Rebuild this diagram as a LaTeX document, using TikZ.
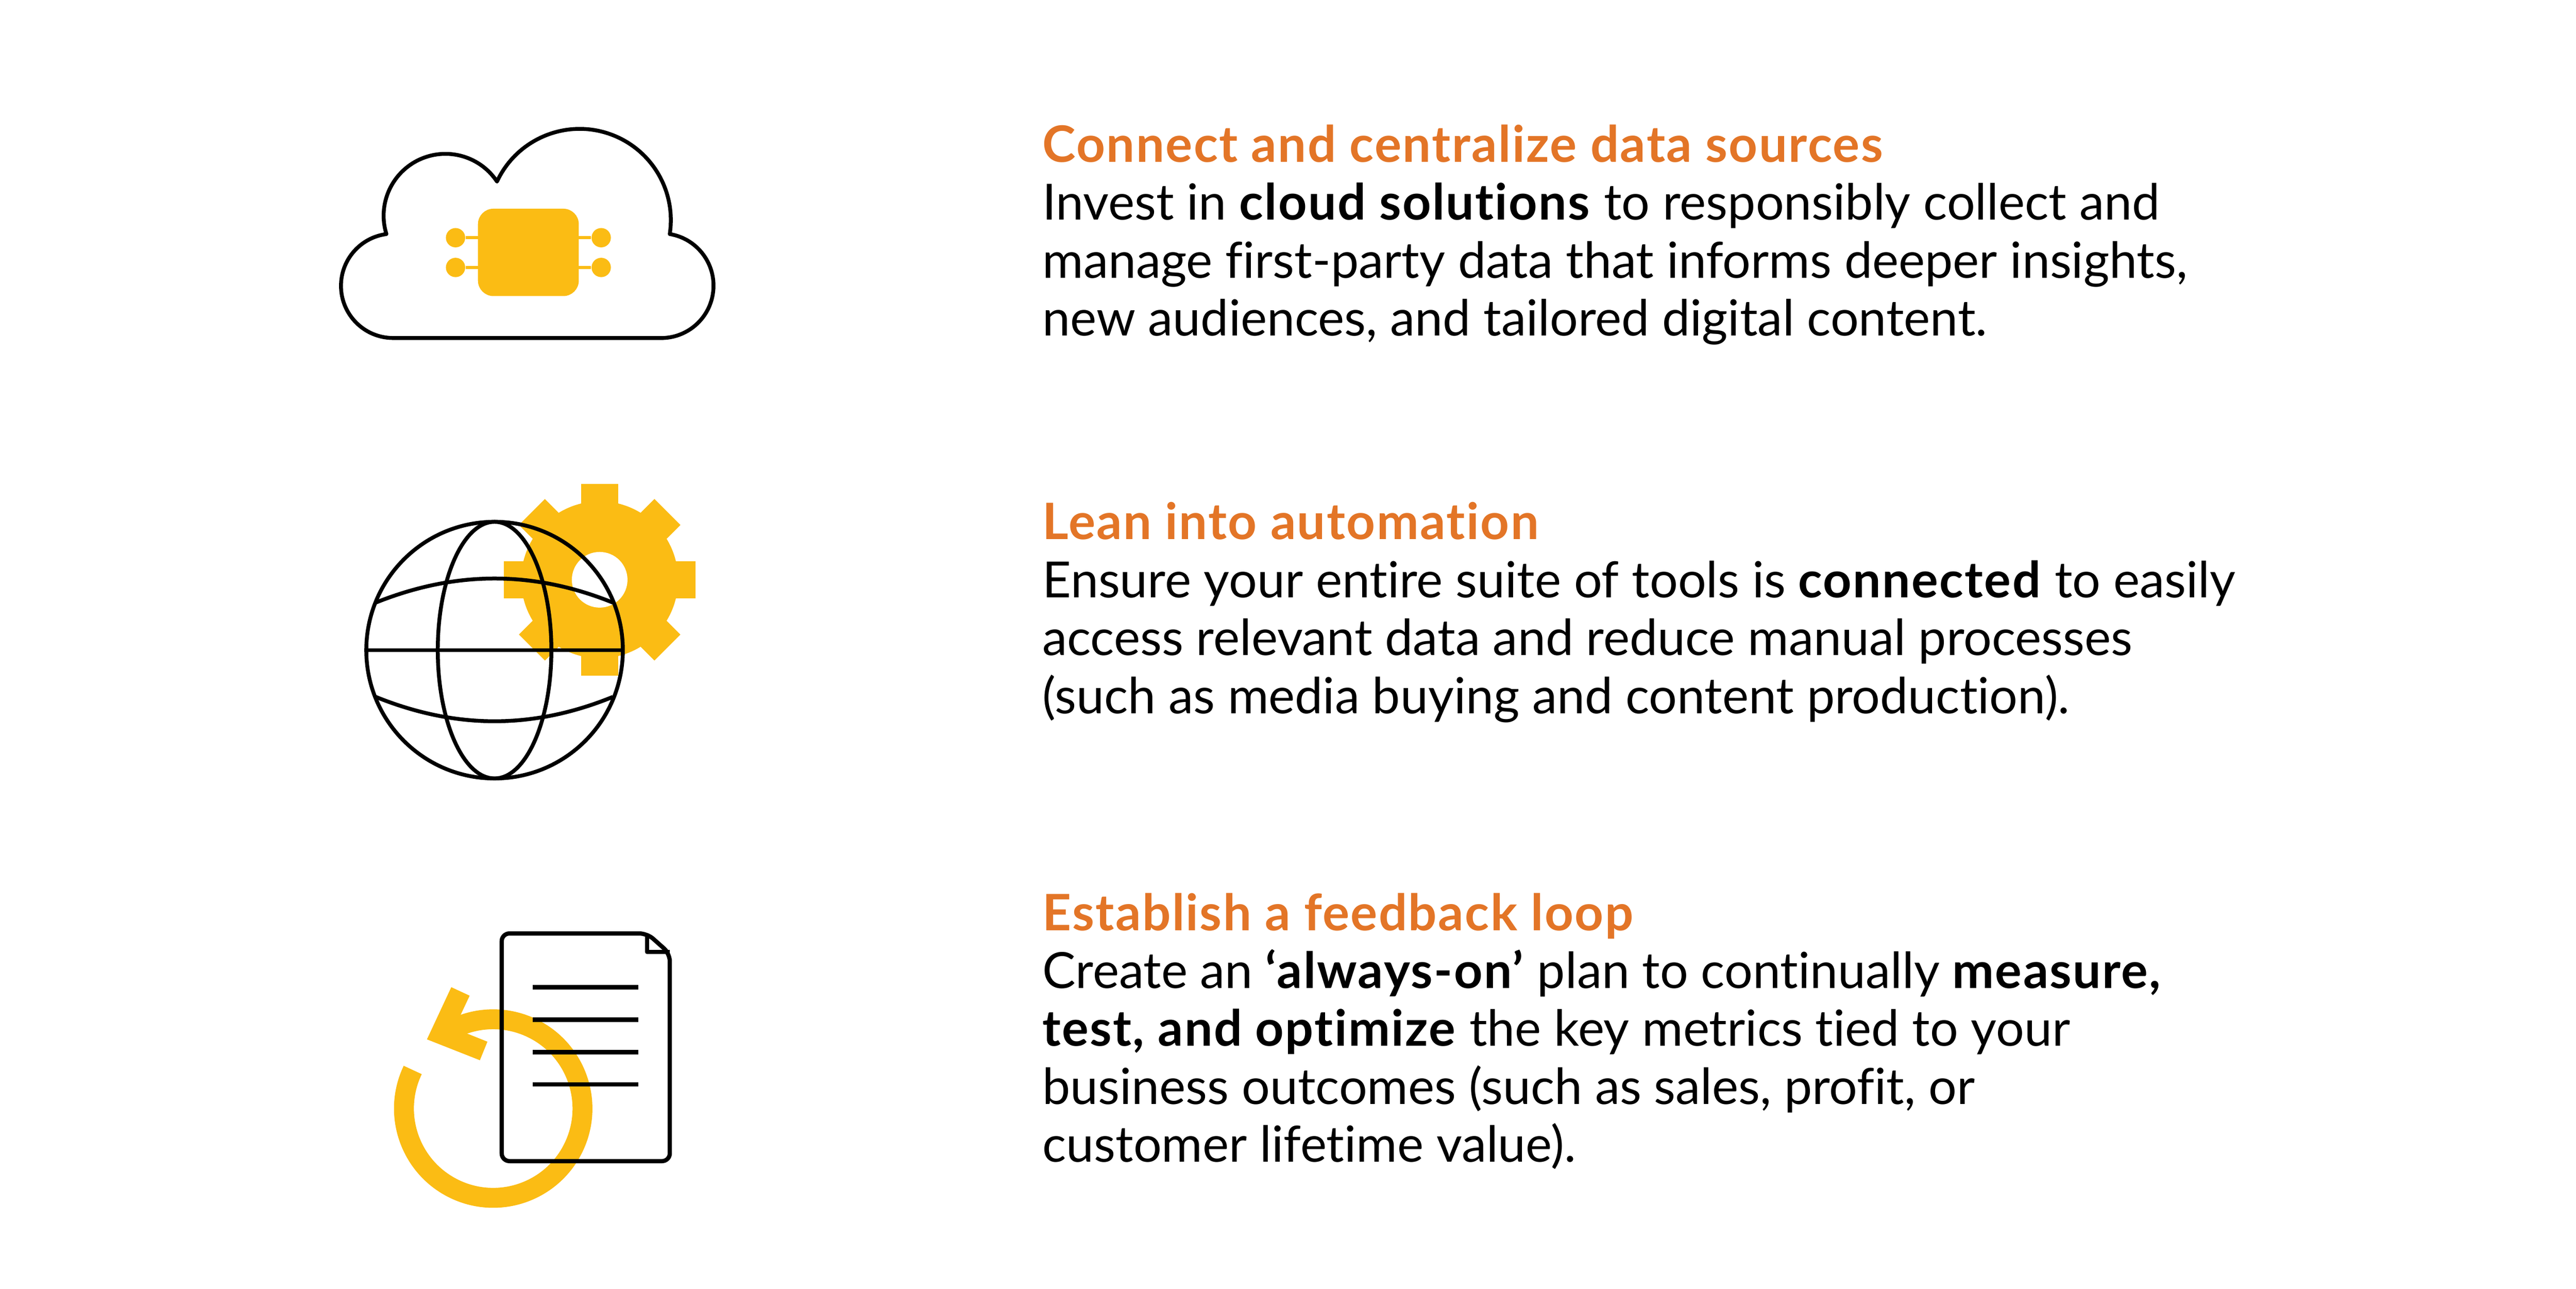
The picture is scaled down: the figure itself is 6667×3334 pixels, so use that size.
\documentclass[tikz,border=0pt]{standalone}
\usepackage{fontspec}
\setmainfont{Lato}[Ligatures=NoCommon, BoldFeatures={LetterSpace=2.5}]
\definecolor{iconyellow}{HTML}{FBBC14}
\definecolor{headorange}{HTML}{E37527}
\tikzset{
  headtext/.style={anchor=base west, inner sep=0pt, text=headorange, font=\fontsize{13pt}{15pt}\selectfont\bfseries},
  bodytext/.style={anchor=base west, inner sep=0pt, align=left, font=\fontsize{12.9pt}{15pt}\selectfont},
  iconline/.style={line width=1pt, black, line join=round},
  chippad/.style={circle, fill=iconyellow, inner sep=0pt, minimum size=5pt},
  chipwire/.style={line width=0.8pt, iconyellow},
}
\begin{document}
\begin{tikzpicture}[x=0.1pt, y=-0.1pt]
    \useasboundingbox (0,0) rectangle (6667,3334);
    % cloud
    \draw[iconline] (1017.5,874.5) arc[start angle=90, end angle=262.6, radius=135]
        arc[start angle=162.7, end angle=326.5, radius=160]
        arc[start angle=205, end angle=368.8, radius=236]
        arc[start angle=-80.6, end angle=90, radius=135.4] -- cycle;
    \node[fill=iconyellow, rounded corners=4pt, inner sep=0pt, minimum width=26.1pt, minimum height=22.6pt] (chip) at (1367.5,653) {};
    \node[chippad] (padnw) at (1179,615) {};
    \node[chippad] (padsw) at (1179,692) {};
    \node[chippad] (padne) at (1556,615) {};
    \node[chippad] (padse) at (1556,692) {};
    \foreach \p in {padnw, padsw, padne, padse}
        \draw[chipwire] (\p) -- (\p -| chip);
    % gear and globe
    \fill[iconyellow] (1552,1500) circle[radius=203];
    \foreach \a in {0,45,...,315}
        \fill[iconyellow, shift={(1552,1500)}, rotate=\a] (0,-47.5) rectangle (248,47.5);
    \fill[white] (1552,1500) circle[radius=72];
    \draw[iconline] (1280,1682) circle[radius=332];
    \draw[iconline] (1280,1682) ellipse[x radius=147, y radius=332];
    \draw[iconline] (948,1682) -- (1612,1682);
    \draw[iconline] (972.5,1559) .. controls (1180,1476) and (1380,1476) .. (1586,1559);
    \draw[iconline] (972.5,1803) .. controls (1180,1887) and (1380,1887) .. (1586,1803);
    % loop and document
    \draw[line width=5.15pt, iconyellow] (1276.5,2868) ++(-154.4:231) arc[start angle=-154.4, end angle=-470, radius=231];
    \fill[iconyellow] (1168,2554) -- (1215.5,2576) -- (1192,2626) -- (1209,2674) -- (1261.5,2695) -- (1242,2743) -- (1105,2689) -- cycle;
    \draw[iconline, line width=1.1pt, rounded corners=2pt] (1298.5,2415) -- (1675,2415) -- (1733.5,2467) -- (1733.5,3004) -- (1298.5,3004) -- cycle;
    \draw[iconline, line width=1.1pt] (1675,2415) -- (1675,2463) -- (1733.5,2463);
    \foreach \y in {2554,2638,2722,2805}
        \draw[line width=1.1pt] (1379,\y) -- (1652,\y);
    % texts
    \node[headtext] (headcloud) at (2696,420) {Connect and centralize data sources};
    \node[bodytext] (bodycloud) at (2696,869) {Invest in \textbf{cloud solutions} to responsibly collect and\\manage first-party data that informs deeper insights,\\new audiences, and tailored digital content.};
    \node[headtext] (headgear) at (2696,1396) {Lean into automation};
    \node[bodytext] (bodygear) at (2696,1846) {Ensure your entire suite of tools is \textbf{connected} to easily\\access relevant data and reduce manual processes\\(such as media buying and content production).};
    \node[headtext] (headloop) at (2696,2407) {Establish a feedback loop};
    \node[bodytext] (bodyloop) at (2696,3006.5) {Create an \textbf{‘always-on’} plan to continually \textbf{measure,}\\\textbf{test, and optimize} the key metrics tied to your\\business outcomes (such as sales, profit, or\\customer lifetime value).};
\end{tikzpicture}
\end{document}
